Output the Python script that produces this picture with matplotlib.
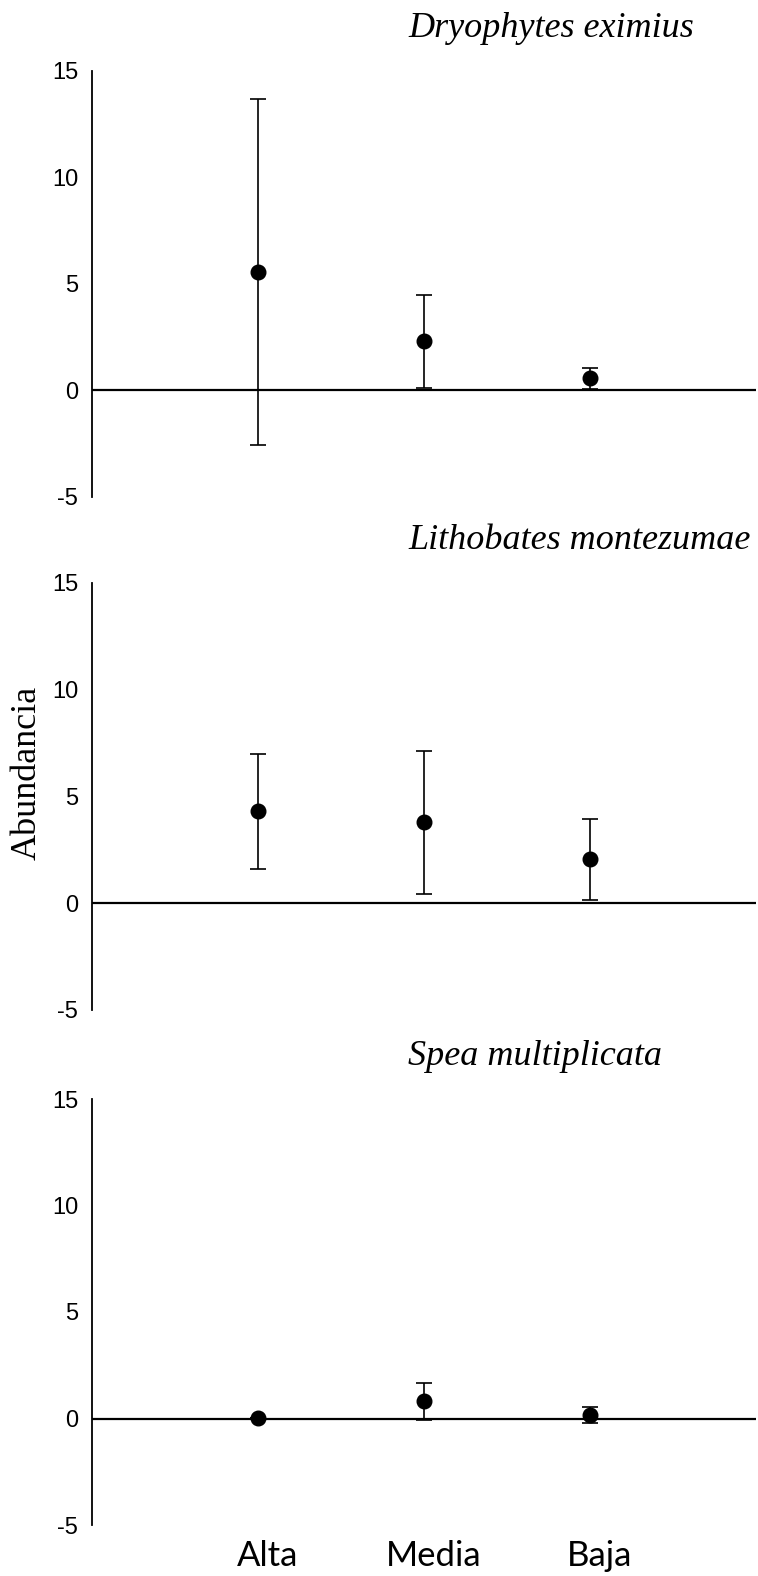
import matplotlib
matplotlib.use("Agg")
import matplotlib.pyplot as plt
import matplotlib.transforms as mtransforms

# mean abundance and error per elevation zone
categories = ["Alta", "Media", "Baja"]
species = ["Dryophytes eximius", "Lithobates montezumae", "Spea multiplicata"]

d_eximius_mean = [5.55, 2.3, 0.55]
d_eximius_err = [8.1, 2.18, 0.5]

l_montezumae_mean = [4.3, 3.8, 2.05]
l_montezumae_err = [2.7, 3.35, 1.9]

s_multiplicata_mean = [0.03, 0.8, 0.17]
s_multiplicata_err = [0.0, 0.88, 0.36]

y_ticks = [-5, 0, 5, 10, 15]

means = [d_eximius_mean, l_montezumae_mean, s_multiplicata_mean]
errs = [d_eximius_err, l_montezumae_err, s_multiplicata_err]

W, H = 758, 1576
fig = plt.figure(figsize=(W / 100, H / 100), dpi=100)

# axes boxes in pixels: (top, bottom)
boxes = [(70.7, 496.7), (583, 1010), (1099, 1525)]
left_px, right_px = 92, 756

x = [1, 2, 3]
axes = []
for i, (top, bottom) in enumerate(boxes):
    ax = fig.add_axes([left_px / W, 1 - bottom / H,
                       (right_px - left_px) / W, (bottom - top) / H])
    ax.errorbar(x, means[i], yerr=errs[i], fmt="o", color="black",
                markersize=10.5, elinewidth=1.2, capsize=5.5, capthick=1.2,
                zorder=3)
    ax.axhline(0, color="black", lw=1.6, zorder=2)
    ax.set_xlim(0, 4)
    ax.set_ylim(-5, 15)
    ax.set_yticks(y_ticks)
    ax.set_yticklabels([str(t) for t in y_ticks],
                       fontfamily="Liberation Sans", fontsize=17)
    ax.tick_params(axis="y", length=0, pad=10)
    for side in ["top", "right", "bottom"]:
        ax.spines[side].set_visible(False)
    ax.spines["left"].set_linewidth(1.3)
    ax.text((408 - left_px) / (right_px - left_px), 1 + 34 / (bottom - top),
            species[i], transform=ax.transAxes, ha="left", va="baseline",
            fontfamily="Liberation Serif", fontstyle="italic", fontsize=26)
    if i < 2:
        ax.set_xticks([])
    axes.append(ax)

# category labels under the last panel
ax3 = axes[-1]
ax3.set_xticks(x)
ax3.set_xticklabels(categories, fontfamily="Lato", fontsize=25)
ax3.tick_params(axis="x", length=0, pad=11)
shift = mtransforms.ScaledTranslation(10 / 100, 0, fig.dpi_scale_trans)
for lab in ax3.get_xticklabels():
    lab.set_transform(lab.get_transform() + shift)

fig.text(27 / W, 1 - 773 / H, "Abundancia", rotation=90, ha="center",
         va="center", fontfamily="Liberation Serif", fontsize=26)

fig.savefig("out.png", dpi=100, facecolor="white")
